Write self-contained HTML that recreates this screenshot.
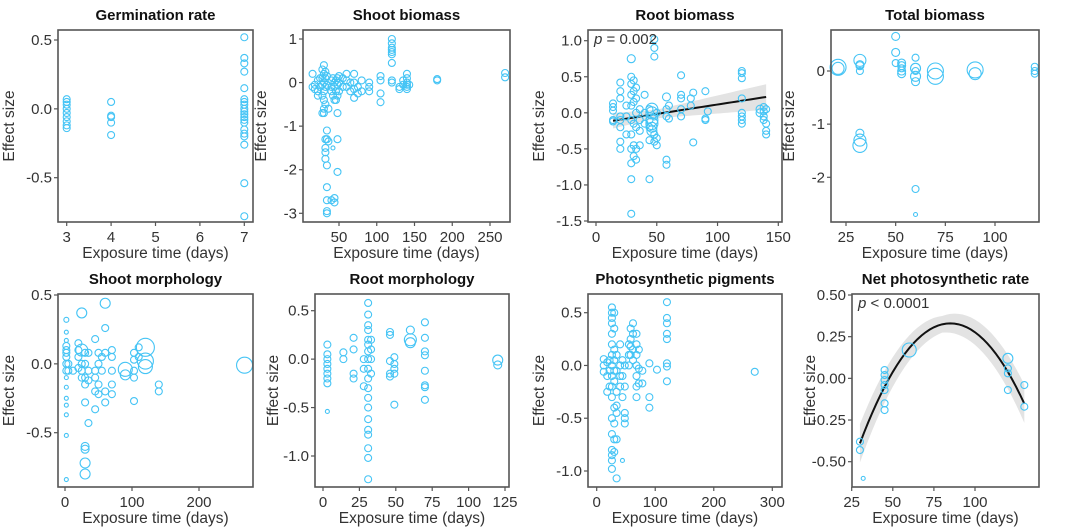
<!DOCTYPE html>
<html><head><meta charset="utf-8">
<style>
html,body{margin:0;padding:0;background:#fff;}
svg{display:block;font-family:"Liberation Sans",Arial,sans-serif;}
.tick{font-size:15px;fill:#333;}
.ttl{font-size:15px;font-weight:bold;fill:#111;}
.axl{font-size:15.5px;fill:#333;}
</style></head>
<body>
<svg id="chart" width="1080" height="530" viewBox="0 0 1080 530" xmlns="http://www.w3.org/2000/svg"></svg>
<script>
// ---- data (x groups, y values per group; [y, r] for sized points) ----
const germX = [3, 4, 7];
const germY = [[0.07,0.05,0.03,0.0,-0.03,-0.06,-0.09,-0.12,-0.14],[0.05,-0.05,-0.06,-0.1,-0.19],[0.52,0.37,0.33,0.27,0.15,0.07,0.05,0.03,0.0,-0.02,-0.04,-0.06,-0.08,-0.1,-0.15,-0.18,-0.2,-0.26,-0.54,-0.78]];
const shootBX = [15,18,22,25,28,30,32,34,36,40,42,44,46,48,50,55,60,65,70,75,80,90,105,120,130,135,140,143,180,270];
const shootBY = [[0.2,-0.1],[-0.05,-0.15],[0.05,-0.2,-0.3],[0.1,-0.1],[0.3,0.1,-0.05,-0.3,-0.7],[0.4,0.2,0.0,-0.2,-0.4,-0.6,-0.7],[0.25,0.1,-0.1,-0.5,-1.3,-1.5,-1.6,-1.75],[0.15,-0.05,-1.1,-1.3,-1.9,-2.4,-2.7,-2.95,-3.0],[-0.6,-1.35],[0.05,-0.1,-0.2,-2.7],[0.1,-0.3,[-1.5,2]],[0.0,-0.1,-0.4,-2.75,-2.65],[0.05,-0.2,-0.4],[0.1,-0.05,-0.3,-0.7,-1.3,-2.05],[0.15,0.0,-0.2],[0.1,-0.1],[0.2,0.05,-0.1],[0.0,-0.2],[0.2,0.0,-0.15,-0.35],[-0.1,-0.25],[0.05,-0.2],[0.0,-0.1,-0.2],[0.15,0.05,-0.25,-0.45],[1.0,0.9,0.8,0.75,0.7,0.65,0.45,0.05,0.0],[-0.1,-0.15],[0.05,-0.05],[0.2,0.1,0.0,-0.05,-0.1,-0.15],[-0.05],[0.08,0.05],[0.22,0.12]];
const rootBX = [14,20,25,29,31,33,36,40,44,46,48,50,58,60,70,78,80,90,92,120,135,138,140];
const rootBY = [[0.13,0.08,0.03,-0.1,-0.12],[0.42,0.3,0.2,-0.05,-0.1,-0.2,-0.4,-0.5],[0.1,-0.05,-0.3],[[0.75,4],0.5,0.4,0.25,0.1,-0.1,-0.3,-0.5,-0.7,-0.92,-1.4],[0.45,0.3,0.15,-0.15,-0.45,-0.6],[0.35,0.2,0.0,-0.2,-0.5,-0.65],[0.05,-0.1,-0.25,-0.45],[0.25,0.0,-0.15],[0.05,-0.1,-0.2,-0.38,-0.92],[[0.05,6],[0.0,6],[-0.1,6],[-0.15,6],[-0.2,5],[-0.25,5]],[1.02,0.9,0.78,-0.05,-0.3,-0.4],[0.0,-0.35,-0.45],[[0.22,4],0.05,-0.05,-0.65,-0.72],[0.1,-0.08],[0.52,0.25,0.2,0.05,-0.05],[0.2,0.1],[0.28,-0.41],[0.3,-0.08,-0.1],[0.02],[0.58,0.55,0.48,0.2,0.0,-0.05,-0.1,-0.15],[[0.05,4],[0.0,4]],[0.08,0.02,-0.05,-0.1],[0.05,-0.15,-0.25,-0.3]];
const totalX = [21,32,50,53,60,70,90,120];
const totalY = [[[0.07,8],[0.05,6]],[[0.2,6],[0.12,4],[0.1,4],0.0,[-1.17,4],[-1.3,6],[-1.4,7]],[[0.65,4],[0.35,4],0.15],[[0.15,4],[0.1,4],0.05,[0.0,4],[-0.05,4]],[0.25,[0.05,5],0.0,[-0.1,5],[-0.2,4],-2.22,[-2.7,2]],[[0.0,8],[-0.1,8]],[[0.02,8],[-0.05,6]],[0.08,0.0,-0.05]];
const shootMX = [2,5,12,20,25,30,35,45,50,55,60,70,90,103,110,120,140,268];
const shootMY = [[[0.32,2.5],[0.23,2],[0.17,2],0.13,0.1,0.08,0.05,0.0,-0.05,[-0.1,2],[-0.17,2],[-0.25,2],[-0.3,2],[-0.37,2],[-0.52,2],[-0.84,2]],[0.0,-0.05],[-0.05],[0.15,0.1,0.05,-0.03],[[0.37,5],[0.1,6],0.0,-0.05,-0.1],[0.08,0.0,-0.1,-0.15,-0.28,[-0.6,4],[-0.62,4],[-0.72,5],[-0.8,5]],[0.08,-0.05,-0.12,-0.43],[0.18,-0.05,-0.1,-0.2,-0.33],[0.08,0.0,-0.15,-0.22],[0.05,-0.05],[[0.44,5],0.26,0.08,-0.2,-0.28],[0.1,0.05,-0.05,-0.15,-0.22],[[-0.04,7],[-0.08,5]],[0.08,0.03,-0.05,-0.1,-0.27],[0.12,0.05],[[0.12,9],[0.02,8],[-0.02,7]],[-0.15,-0.2],[[-0.01,8]]];
const rootMX = [3,14,21,28,31,33,46,49,60,70,120];
const rootMY = [[0.15,0.05,0.0,-0.05,-0.1,-0.15,-0.2,-0.25,[-0.54,2]],[0.07,0.0],[0.22,0.1,-0.15,-0.2],[0.0,-0.1,-0.28],[0.58,0.46,0.35,0.3,0.2,0.15,0.08,0.0,-0.1,-0.2,-0.3,-0.4,-0.5,-0.62,-0.73,-0.78,-0.92,-1.02,-1.24],[0.2,0.1,0.0,-0.15],[0.28,0.25,-0.02,-0.15,-0.18],[0.02,-0.05,-0.1,-0.15,-0.47],[[0.3,4],[0.2,6],[0.17,5]],[0.38,0.22,0.08,0.04,-0.12,-0.27,-0.29,-0.42],[[-0.01,5],[-0.06,4]]];
const pigX = [12,18,22,26,30,34,40,44,48,55,58,62,68,72,78,90,103,120,270];
const pigY = [[0.06,0.0,-0.06],[0.03,-0.1,-0.25],[0.05,-0.05,-0.2],[0.55,0.5,0.45,0.4,0.3,0.2,0.1,0.0,-0.1,-0.2,-0.3,-0.5,-0.65,-0.8,-0.85,-0.9,-0.98],[0.5,0.35,0.15,0.05,-0.05,-0.15,-0.4,-0.55,-0.7,-0.82],[0.1,-0.05,-0.25,-0.38,-0.45,-0.7,-1.07],[0.2,0.0,-0.1,-0.2],[0.05,-0.1,-0.3,[-0.9,2]],[0.0,-0.2,-0.45,-0.5,-0.55],[0.2,0.1,0.0],[0.35,0.25,0.18,0.1],[0.4,0.3,0.15,0.05],[0.3,0.2,0.1,0.0,-0.1,-0.2,-0.3],[0.15,-0.03,-0.17],[-0.05,-0.17],[0.02,-0.3,-0.4],[-0.04],[0.6,0.45,0.4,0.3,0.25,0.02,-0.01,-0.15],[-0.06]];
const netX = [30,32,45,60,120,130];
const netY = [[-0.38,-0.43],[[-0.6,2]],[0.05,0.02,-0.01,-0.04,-0.07,-0.15,-0.19],[[0.17,7]],[[0.12,5],0.06,0.03,-0.07],[-0.04,-0.17]];
// fitted trends
const rootFitX = [14, 140];
const rootFitY = [-0.11, 0.22];
const netFitPeak = [85, 0.33];
const netFitA = -0.000238;

// ---- panel specs ----
const panels = [
 {name:'germination-rate',title:'Germination rate',box:[58,30,253,222],xp:[3,66.7,7,244.3],yp:[0.5,40,-0.5,177.7],xt:[3,4,5,6,7],yt:[0.5,0.0,-0.5],yf:1,xs:germX,ys:germY},
 {name:'shoot-biomass',title:'Shoot biomass',box:[303,30,510,222],xp:[50,339,250,490],yp:[1,39,-3,213.3],xt:[50,100,150,200,250],yt:[1,0,-1,-2,-3],yf:0,xs:shootBX,ys:shootBY},
 {name:'root-biomass',title:'Root biomass',box:[588,30,782,222],xp:[0,596,150,778.3],yp:[1,40.7,-1.5,221],xt:[0,50,100,150],yt:[1,0.5,0,-0.5,-1,-1.5],yf:1,xs:rootBX,ys:rootBY,p:'= 0.002',fit:'lin'},
 {name:'total-biomass',title:'Total biomass',box:[831,30,1039,222],xp:[25,846,100,995],yp:[0,71,-2,177.3],xt:[25,50,75,100],yt:[0,-1,-2],yf:0,xs:totalX,ys:totalY},
 {name:'shoot-morphology',title:'Shoot morphology',box:[58,294,253,487],xp:[0,65,200,199],yp:[0.5,295,-0.5,432.7],xt:[0,100,200],yt:[0.5,0,-0.5],yf:1,xs:shootMX,ys:shootMY},
 {name:'root-morphology',title:'Root morphology',box:[315,294,509,487],xp:[0,323,125,505],yp:[0.5,310.7,-1,456],xt:[0,25,50,75,100,125],yt:[0.5,0,-0.5,-1],yf:1,xs:rootMX,ys:rootMY},
 {name:'photosynthetic-pigments',title:'Photosynthetic pigments',box:[588,294,782,487],xp:[0,596.7,300,772.3],yp:[0.5,312.7,-1,471],xt:[0,100,200,300],yt:[0.5,0,-0.5,-1],yf:1,xs:pigX,ys:pigY},
 {name:'net-photosynthetic-rate',title:'Net photosynthetic rate',box:[852,294,1039,487],xp:[25,851.7,100,975],yp:[0.5,295,-0.5,461.7],xt:[25,50,75,100],yt:[0.5,0.25,0,-0.25,-0.5],yf:2,xs:netX,ys:netY,p:'< 0.0001',fit:'quad'}
];
const NS='http://www.w3.org/2000/svg';
const svg=document.getElementById('chart');
function mk(tag,attrs,parent){const e=document.createElementNS(NS,tag);for(const k in attrs)e.setAttribute(k,attrs[k]);(parent||svg).appendChild(e);return e;}
panels.forEach(P=>{
  const g=mk('g',{});
  
  
  const [l,t,r,b]=P.box;
  const X=v=>P.xp[1]+(v-P.xp[0])*(P.xp[3]-P.xp[1])/(P.xp[2]-P.xp[0]);
  const Y=v=>P.yp[1]+(v-P.yp[0])*(P.yp[3]-P.yp[1])/(P.yp[2]-P.yp[0]);
  if(P.fit){
    let xs0,xs1,f,w;
    if(P.fit==='lin'){xs0=rootFitX[0];xs1=rootFitX[1];f=x=>rootFitY[0]+(x-rootFitX[0])*(rootFitY[1]-rootFitY[0])/(rootFitX[1]-rootFitX[0]);w=x=>0.06+Math.abs(x-50)*0.0013;}
    else{xs0=30;xs1=130;f=x=>netFitA*(x-netFitPeak[0])**2+netFitPeak[1];w=x=>0.05+Math.abs(x-80)*0.0013;}
    const up=[],dn=[],ln=[];
    for(let i=0;i<=40;i++){const x=xs0+(xs1-xs0)*i/40;up.push(X(x)+','+Y(f(x)+w(x)));dn.unshift(X(x)+','+Y(f(x)-w(x)));ln.push(X(x)+','+Y(f(x)));}
    const band=mk('polygon',{points:up.concat(dn).join(' '),fill:'#e3e3e3'},g);
    
    
    const fl=mk('polyline',{points:ln.join(' '),fill:'none',stroke:'#111','stroke-width':2},g);
    
    
  }
  P.xs.forEach((xv,i)=>{
    P.ys[i].forEach(yv=>{
      let yy=yv,rr=3.5;
      if(Array.isArray(yv)){yy=yv[0];rr=yv[1];}
      const c=mk('circle',{cx:X(xv),cy:Y(yy),r:rr,fill:'none',stroke:'#45c4f5','stroke-width':1.1},g);
      
      
    });
  });
  const fr=mk('rect',{x:l,y:t,width:r-l,height:b-t,fill:'none',stroke:'#555','stroke-width':1.6},g);
  
  
  P.xt.forEach(v=>{
    mk('line',{x1:X(v),x2:X(v),y1:b,y2:b+4,stroke:'#555','stroke-width':1.2},g);
    const tx=mk('text',{x:X(v),y:b+20,'text-anchor':'middle',class:'tick'},g);
    tx.textContent=v;
    
    
  });
  P.yt.forEach(v=>{
    mk('line',{x1:l-4,x2:l,y1:Y(v),y2:Y(v),stroke:'#555','stroke-width':1.2},g);
    const tx=mk('text',{x:l-6,y:Y(v)+5,'text-anchor':'end',class:'tick'},g);
    tx.textContent=v.toFixed(P.yf);
    
    
  });
  const ti=mk('text',{x:(l+r)/2,y:t-10,'text-anchor':'middle',class:'ttl'},g);
  ti.textContent=P.title;
  
  
  const xl=mk('text',{x:(l+r)/2,y:b+36,'text-anchor':'middle',class:'axl'},g);
  xl.textContent='Exposure time (days)';
  
  
  const yx=(P.name==='shoot-biomass'||P.name==='total-biomass'||P.name==='root-morphology'||P.name==='net-photosynthetic-rate')?l-37:l-44;
  const yl=mk('text',{x:yx,y:(t+b)/2,'text-anchor':'middle',class:'axl',transform:'rotate(-90 '+yx+' '+((t+b)/2)+')'},g);
  yl.textContent='Effect size';
  
  
  if(P.p){
    const pt=mk('text',{x:l+6,y:t+14,class:'tick','font-size':'14px'},g);
    pt.innerHTML='<tspan font-style="italic">p</tspan> '+P.p;
    
    
  }
});
</script>
</body></html>
